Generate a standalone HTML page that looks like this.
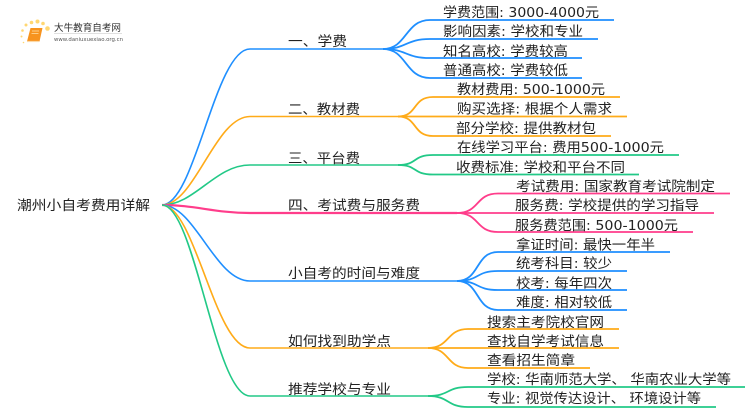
<!DOCTYPE html>
<html><head><meta charset="utf-8"><style>
html,body{margin:0;padding:0;background:#fff}
svg{display:block;filter:blur(.35px)}
text{font-family:"DejaVu Sans","Noto Sans CJK SC",sans-serif;font-size:13.5px;fill:#222}
.n{fill:none}
.b{stroke:#1f8fff}.o{stroke:#ffab19}.g{stroke:#22c987}.p{stroke:#ff3d8b}
.l{stroke-width:1.6}.c{stroke-width:1.8}
</style></head><body>
<svg width="750" height="410" viewBox="0 0 750 410" xmlns="http://www.w3.org/2000/svg">
<rect width="750" height="410" fill="#fff"/>
<g>
<g fill="#ffd772">
<circle cx="47.500" cy="28.500" r="2.300"/><circle cx="37.500" cy="21.500" r="2"/><circle cx="31.500" cy="22.500" r="1.800"/><circle cx="43" cy="23.500" r="1.800"/><circle cx="26" cy="25" r="1.500"/><circle cx="22.500" cy="30.500" r="1.300"/><circle cx="21.500" cy="36.500" r="1"/><circle cx="23.500" cy="42.500" r=".8"/>
</g>
<path d="M30.500 28h12l-3 13.500h-12.500z" fill="#f7931e"/>
<path d="M27 41.500h12" stroke="#fbd9a8" stroke-width="1.200" fill="none"/>
<path d="M32 31h7M31.500 33.500h7" stroke="#ffe2a8" stroke-width=".7" fill="none"/>
<rect x="54" y="33" width="68" height=".6" fill="#ccc"/>
</g>
<text x="54" y="31" textLength="67" lengthAdjust="spacingAndGlyphs" style="font-size:9.500px;fill:#333">大牛教育自考网</text>
<text x="54" y="41" textLength="69" lengthAdjust="spacingAndGlyphs" style="font-size:5.500px;fill:#555">www.daniuxuexiao.org.cn</text>

<g class="n">
<path class="b l" d="M162 205C195 205 215 49 250 49H383"/>
<path class="o l" d="M162 205C195 205 215 116.500 250 116.500H398"/>
<path class="g l" d="M162 205C195 205 215 165 250 165H398"/>
<path class="p" stroke-width="2.200" d="M162 205C195 205 215 213 250 213H457"/>
<path class="b l" d="M162 205C195 205 215 281 250 281H457"/>
<path class="o l" d="M162 205C195 205 215 348 250 348H428"/>
<path class="g l" d="M162 205C195 205 215 396 250 396H428"/>

<path class="b c" d="M383 49C407 49 405 20 430 20H614"/>
<path class="b c" d="M383 49C407 49 405 39 430 39H598"/>
<path class="b c" d="M383 49C407 49 405 58 430 58H582"/>
<path class="b c" d="M383 49C407 49 405 78 430 78H582"/>

<path class="o c" d="M398 116.500C418 116.500 412 97 433 97H620"/>
<path class="o c" d="M398 116.500H627"/>
<path class="o c" d="M398 116.500C418 116.500 412 136 433 136H611"/>

<path class="g c" d="M398 165C418 165 412 155 433 155H679"/>
<path class="g c" d="M398 165C418 165 412 174.500 433 174.500H639"/>

<path class="p c" d="M457 213C480 213 475 193.500 498 193.500H730"/>
<path class="p c" d="M457 213H714"/>
<path class="p c" d="M457 213C480 213 475 232 498 232H693"/>

<path class="b c" d="M457 281C480 281 475 252 498 252H670"/>
<path class="b c" d="M457 281C480 281 475 271 498 271H627"/>
<path class="b c" d="M457 281C480 281 475 290 498 290H627"/>
<path class="b c" d="M457 281C480 281 475 310 498 310H627"/>

<path class="o c" d="M428 348C450 348 446 329 468 329H619"/>
<path class="o c" d="M428 348H619"/>
<path class="o c" d="M428 348C450 348 446 368 468 368H590"/>

<path class="g c" d="M428 396C450 396 446 387 468 387H745"/>
<path class="g c" d="M428 396C450 396 446 407 468 407H716"/>
</g>

<g>
<text x="17" y="210" textLength="133" lengthAdjust="spacingAndGlyphs">潮州小自考费用详解</text>
<text x="288" y="46" textLength="59" lengthAdjust="spacingAndGlyphs">一、学费</text>
<text x="288" y="114" textLength="72" lengthAdjust="spacingAndGlyphs">二、教材费</text>
<text x="288" y="163" textLength="72" lengthAdjust="spacingAndGlyphs">三、平台费</text>
<text x="288" y="210" textLength="132" lengthAdjust="spacingAndGlyphs">四、考试费与服务费</text>
<text x="288" y="278" textLength="132" lengthAdjust="spacingAndGlyphs">小自考的时间与难度</text>
<text x="288" y="346" textLength="103" lengthAdjust="spacingAndGlyphs">如何找到助学点</text>
<text x="288" y="394" textLength="103" lengthAdjust="spacingAndGlyphs">推荐学校与专业</text>

<text x="443" y="17" textLength="156" lengthAdjust="spacingAndGlyphs">学费范围: 3000-4000元</text>
<text x="443" y="36" textLength="140" lengthAdjust="spacingAndGlyphs">影响因素: 学校和专业</text>
<text x="443" y="56" textLength="125" lengthAdjust="spacingAndGlyphs">知名高校: 学费较高</text>
<text x="443" y="75" textLength="125" lengthAdjust="spacingAndGlyphs">普通高校: 学费较低</text>
<text x="457" y="94" textLength="148" lengthAdjust="spacingAndGlyphs">教材费用: 500-1000元</text>
<text x="457" y="113.500" textLength="155" lengthAdjust="spacingAndGlyphs">购买选择: 根据个人需求</text>
<text x="456" y="133" textLength="140" lengthAdjust="spacingAndGlyphs">部分学校: 提供教材包</text>
<text x="457" y="152" textLength="207" lengthAdjust="spacingAndGlyphs">在线学习平台: 费用500-1000元</text>
<text x="456" y="172" textLength="169" lengthAdjust="spacingAndGlyphs">收费标准: 学校和平台不同</text>
<text x="516" y="191" textLength="199" lengthAdjust="spacingAndGlyphs">考试费用: 国家教育考试院制定</text>
<text x="515" y="210" textLength="184" lengthAdjust="spacingAndGlyphs">服务费: 学校提供的学习指导</text>
<text x="515" y="230" textLength="163" lengthAdjust="spacingAndGlyphs">服务费范围: 500-1000元</text>
<text x="516" y="249.500" textLength="139" lengthAdjust="spacingAndGlyphs">拿证时间: 最快一年半</text>
<text x="516" y="268" textLength="96" lengthAdjust="spacingAndGlyphs">统考科目: 较少</text>
<text x="516" y="288" textLength="96" lengthAdjust="spacingAndGlyphs">校考: 每年四次</text>
<text x="516" y="307" textLength="96" lengthAdjust="spacingAndGlyphs">难度: 相对较低</text>
<text x="487" y="327" textLength="117" lengthAdjust="spacingAndGlyphs">搜索主考院校官网</text>
<text x="487" y="346" textLength="117" lengthAdjust="spacingAndGlyphs">查找自学考试信息</text>
<text x="487" y="365" textLength="88" lengthAdjust="spacingAndGlyphs">查看招生简章</text>
<text x="487" y="384" textLength="244" lengthAdjust="spacingAndGlyphs">学校: 华南师范大学、 华南农业大学等</text>
<text x="487" y="403" textLength="214" lengthAdjust="spacingAndGlyphs">专业: 视觉传达设计、 环境设计等</text>
</g>
</svg>
</body></html>
